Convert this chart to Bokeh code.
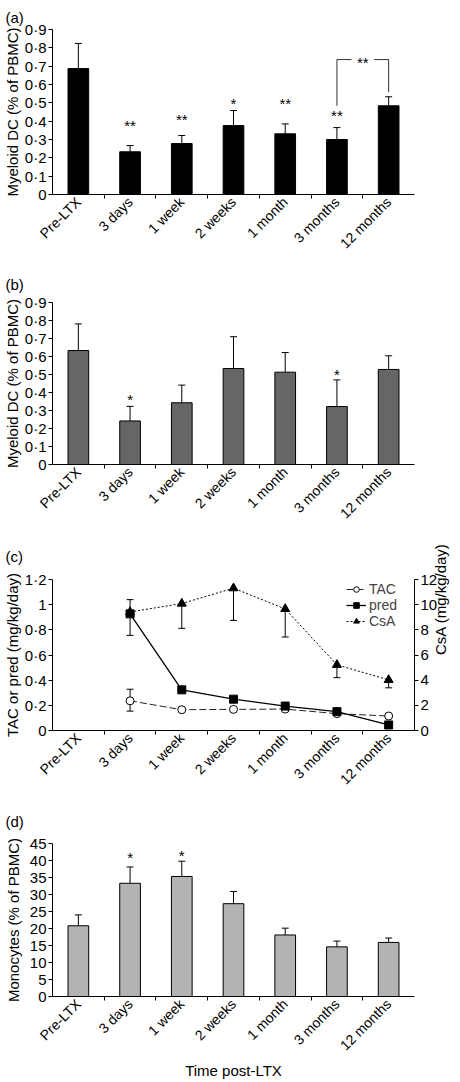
import math
from bokeh.plotting import figure
from bokeh.layouts import column
from bokeh.models import (Range1d, LinearAxis, FixedTicker, CustomJSTickFormatter,
                          ColumnDataSource, Whisker, TeeHead, Legend, LegendItem)
from bokeh.core.properties import value
from bokeh.embed import file_html
from bokeh.resources import INLINE

FONT = "Liberation Sans"

# ---------------- data ----------------
categories = ["Pre-LTX", "3 days", "1 week", "2 weeks", "1 month", "3 months", "12 months"]

# (a) myeloid DC, group 1
a_mean = [0.687, 0.233, 0.278, 0.376, 0.331, 0.300, 0.484]
a_err = [0.137, 0.034, 0.044, 0.082, 0.054, 0.065, 0.049]
a_sig = ["", "**", "**", "*", "**", "**", ""]
a_sig_y = [0.0, 0.393, 0.427, 0.515, 0.511, 0.447, 0.0]
a_bracket_y = 0.736
a_bracket_left = 0.484
a_bracket_right = 0.558

# (b) myeloid DC, group 2
b_mean = [0.633, 0.242, 0.343, 0.533, 0.513, 0.322, 0.528]
b_err = [0.148, 0.081, 0.098, 0.177, 0.109, 0.148, 0.076]
b_sig = ["", "*", "", "", "", "*", ""]
b_sig_y = [0.0, 0.376, 0.0, 0.0, 0.0, 0.519, 0.0]

# (c) drug doses (3 days .. 12 months)
tac = [0.236, 0.165, 0.168, 0.170, 0.134, 0.115]
pred = [0.927, 0.323, 0.249, 0.194, 0.150, 0.044]
csa = [9.42, 10.09, 11.31, 9.66, 5.22, 4.02]
tac_low = [0.154, None, None, None, None, None]
tac_high = [0.328, None, None, None, None, None]
pred_low = [0.756, None, None, None, None, None]
pred_high = [1.040, None, None, None, None, None]
csa_low = [None, 8.12, 8.75, 7.43, 4.20, 3.39]

# (d) monocytes
d_mean = [20.8, 33.3, 35.3, 27.3, 18.1, 14.6, 15.9]
d_err = [3.2, 4.8, 4.5, 3.6, 2.0, 1.7, 1.3]
d_sig = ["", "*", "*", "", "", "", ""]
d_sig_y = [0.0, 41.7, 42.4, 0.0, 0.0, 0.0, 0.0]

y_ticks_dc = [0, 0.1, 0.2, 0.3, 0.4, 0.5, 0.6, 0.7, 0.8, 0.9]
y_ticks_dose = [0, 0.2, 0.4, 0.6, 0.8, 1.0, 1.2]
y_ticks_csa = [0, 2, 4, 6, 8, 10, 12]
y_ticks_mono = [0, 5, 10, 15, 20, 25, 30, 35, 40, 45]

x_pos = list(range(1, len(categories) + 1))
x_bounds = [x + 0.5 for x in x_pos[:-1]]

W = 460
BL = 50
BR = 42

dot_fmt = CustomJSTickFormatter(code="return String(Math.round(tick*10)/10).replace('.', '\u00b7');")


def style_axis_label(ax, standoff):
    ax.axis_label_text_font = FONT
    ax.axis_label_text_font_size = "15px"
    ax.axis_label_text_font_style = "normal"
    ax.axis_label_text_color = "black"
    ax.axis_label_standoff = standoff


def make_fig(height, top, frame_h, y_end, y_ticks, fmt, letter, letter_standoff, ytitle, ystandoff):
    p = figure(width=W, height=height, x_range=Range1d(0.5, 7.5), y_range=Range1d(0, y_end),
               output_backend="svg", toolbar_location=None,
               min_border_left=BL, min_border_right=BR, min_border_top=top,
               min_border_bottom=height - top - frame_h)
    p.outline_line_color = None
    p.xgrid.visible = False
    p.ygrid.visible = False
    p.background_fill_color = "white"
    p.border_fill_color = "white"
    p.title.text = letter
    p.title.align = "left"
    p.title.offset = -47
    p.title.standoff = letter_standoff
    p.title.text_font = FONT
    p.title.text_font_size = "15px"
    p.title.text_font_style = "normal"
    p.title.text_color = "black"
    xa = p.xaxis[0]
    xa.ticker = FixedTicker(ticks=x_pos, minor_ticks=x_bounds)
    xa.formatter = CustomJSTickFormatter(args=dict(labels=categories),
                                         code="var i = Math.round(tick) - 1; return (i >= 0 && i < labels.length) ? labels[i] : '';")
    xa.major_tick_out = 0
    xa.major_tick_in = 0
    xa.minor_tick_out = 4
    xa.minor_tick_in = 0
    xa.minor_tick_line_color = "black"
    xa.major_label_orientation = math.pi / 4
    xa.major_label_standoff = 1
    xa.major_label_text_font_size = "14px"
    ya = p.yaxis[0]
    ya.ticker = FixedTicker(ticks=y_ticks, minor_ticks=[])
    if fmt is not None:
        ya.formatter = fmt
    ya.major_tick_out = 4
    ya.major_tick_in = 0
    ya.minor_tick_out = 0
    ya.minor_tick_in = 0
    ya.major_label_standoff = 2
    ya.major_label_text_font_size = "15px"
    ya.axis_label = ytitle
    style_axis_label(ya, ystandoff)
    for ax in (xa, ya):
        ax.axis_line_color = "black"
        ax.major_tick_line_color = "black"
        ax.major_label_text_font = FONT
        ax.major_label_text_color = "black"
    return p


def bar_panel(height, top, frame_h, means, errs, sig, sig_y, fill, letter, letter_standoff,
              ytitle, ystandoff, y_end, y_ticks, fmt):
    p = make_fig(height, top, frame_h, y_end, y_ticks, fmt, letter, letter_standoff, ytitle, ystandoff)
    src = ColumnDataSource(dict(x=x_pos, top=means, upper=[m + e for m, e in zip(means, errs)]))
    p.vbar(x="x", top="top", bottom=0, width=0.4, source=src, fill_color=fill,
           line_color="black", line_width=1)
    p.add_layout(Whisker(source=src, base="x", lower="top", upper="upper", dimension="height",
                         line_color="black", line_width=1,
                         upper_head=TeeHead(size=7, line_color="black", line_width=1),
                         lower_head=None))
    sx = [x for x, s in zip(x_pos, sig) if s]
    sy = [y for y, s in zip(sig_y, sig) if s]
    st = [s for s in sig if s]
    p.text(x=sx, y=sy, text=st, text_align="center", text_baseline="alphabetic", y_offset=3,
           text_font=value(FONT), text_font_size="15px", text_color="black")
    return p


# ---- panel (a)
pa = bar_panel(263, 29, 165, a_mean, a_err, a_sig, a_sig_y, "black", "(a)", 8,
               "Myeloid DC (% of PBMC)", 1, 0.9, y_ticks_dc, dot_fmt)
pa.line(x=[x_pos[5], x_pos[5], x_pos[5] + 0.28], y=[a_bracket_left, a_bracket_y, a_bracket_y],
        line_color="#333333", line_width=1)
pa.line(x=[x_pos[6] - 0.28, x_pos[6], x_pos[6]], y=[a_bracket_y, a_bracket_y, a_bracket_right],
        line_color="#333333", line_width=1)
pa.text(x=[(x_pos[5] + x_pos[6]) / 2], y=[a_bracket_y], text=["**"], text_align="center",
        text_baseline="alphabetic", y_offset=3, text_font=value(FONT), text_font_size="15px",
        text_color="black")

# ---- panel (b)
pb = bar_panel(267, 38, 166, b_mean, b_err, b_sig, b_sig_y, "#666666", "(b)", 20,
               "Myeloid DC (% of PBMC)", 1, 0.9, y_ticks_dc, dot_fmt)

# ---- panel (c)
pc = make_fig(267, 48, 152, 1.2, y_ticks_dose, dot_fmt, "(c)", 30,
              "TAC or pred (mg/kg/day)", 1)
pc.extra_y_ranges = {"csa": Range1d(0, 12)}
ra = LinearAxis(y_range_name="csa", ticker=FixedTicker(ticks=y_ticks_csa, minor_ticks=[]))
ra.major_tick_out = 4
ra.major_tick_in = 0
ra.minor_tick_out = 0
ra.minor_tick_in = 0
ra.major_label_standoff = 2
ra.axis_line_color = "black"
ra.major_tick_line_color = "black"
ra.major_label_text_font = FONT
ra.major_label_text_font_size = "15px"
ra.major_label_text_color = "black"
ra.axis_label = "CsA (mg/kg/day)"
style_axis_label(ra, 0)
try:
    ra.axis_label_orientation = math.pi / 2
except Exception:
    pass
pc.add_layout(ra, "right")

cx = x_pos[1:]
csa_line = pc.line(cx, csa, y_range_name="csa", line_color="black", line_width=1, line_dash="2 2")
csa_mark = pc.scatter(cx, csa, y_range_name="csa", marker="triangle", size=9,
                      fill_color="black", line_color="black")
tac_line = pc.line(cx, tac, line_color="#222222", line_width=1, line_dash="7 3")
tac_mark = pc.scatter(cx, tac, marker="circle", size=8, fill_color="white", line_color="black",
                      line_width=1)
pred_line = pc.line(cx, pred, line_color="black", line_width=1.3)
pred_mark = pc.scatter(cx, pred, marker="square", size=8, fill_color="black", line_color="black")

for lo, hi in ((tac_low, tac_high), (pred_low, pred_high)):
    xs = [x for x, l in zip(cx, lo) if l is not None]
    ls = [l for l in lo if l is not None]
    hs = [h for h in hi if h is not None]
    s = ColumnDataSource(dict(x=xs, lower=ls, upper=hs))
    pc.add_layout(Whisker(source=s, base="x", lower="lower", upper="upper", dimension="height",
                          line_color="black", line_width=1,
                          upper_head=TeeHead(size=7, line_color="black", line_width=1),
                          lower_head=TeeHead(size=7, line_color="black", line_width=1)))
xs = [x for x, l in zip(cx, csa_low) if l is not None]
ls = [l for l in csa_low if l is not None]
hs = [c for c, l in zip(csa, csa_low) if l is not None]
s = ColumnDataSource(dict(x=xs, lower=ls, upper=hs))
pc.add_layout(Whisker(source=s, base="x", lower="lower", upper="upper", dimension="height",
                      y_range_name="csa", line_color="black", line_width=1,
                      lower_head=TeeHead(size=7, line_color="black", line_width=1),
                      upper_head=None))

legend = Legend(items=[LegendItem(label="TAC", renderers=[tac_line, tac_mark]),
                       LegendItem(label="pred", renderers=[pred_line, pred_mark]),
                       LegendItem(label="CsA", renderers=[csa_line, csa_mark])],
                location=(294, 101), border_line_color=None, background_fill_alpha=0,
                label_text_font=FONT, label_text_font_size="14px",
                glyph_width=20, glyph_height=14, label_height=14, spacing=0, padding=1,
                label_standoff=3, margin=0)
pc.add_layout(legend)

# ---- panel (d)
pd_ = bar_panel(285, 45, 158, d_mean, d_err, d_sig, d_sig_y, "#b3b3b3", "(d)", 27,
                "Monocytes (% of PBMC)", 5, 45, y_ticks_mono, None)
pd_.xaxis[0].axis_label = "Time post-LTX"
style_axis_label(pd_.xaxis[0], 0)

layout = column(pa, pb, pc, pd_, spacing=0)
open("out.html", "w").write(file_html(layout, INLINE))
